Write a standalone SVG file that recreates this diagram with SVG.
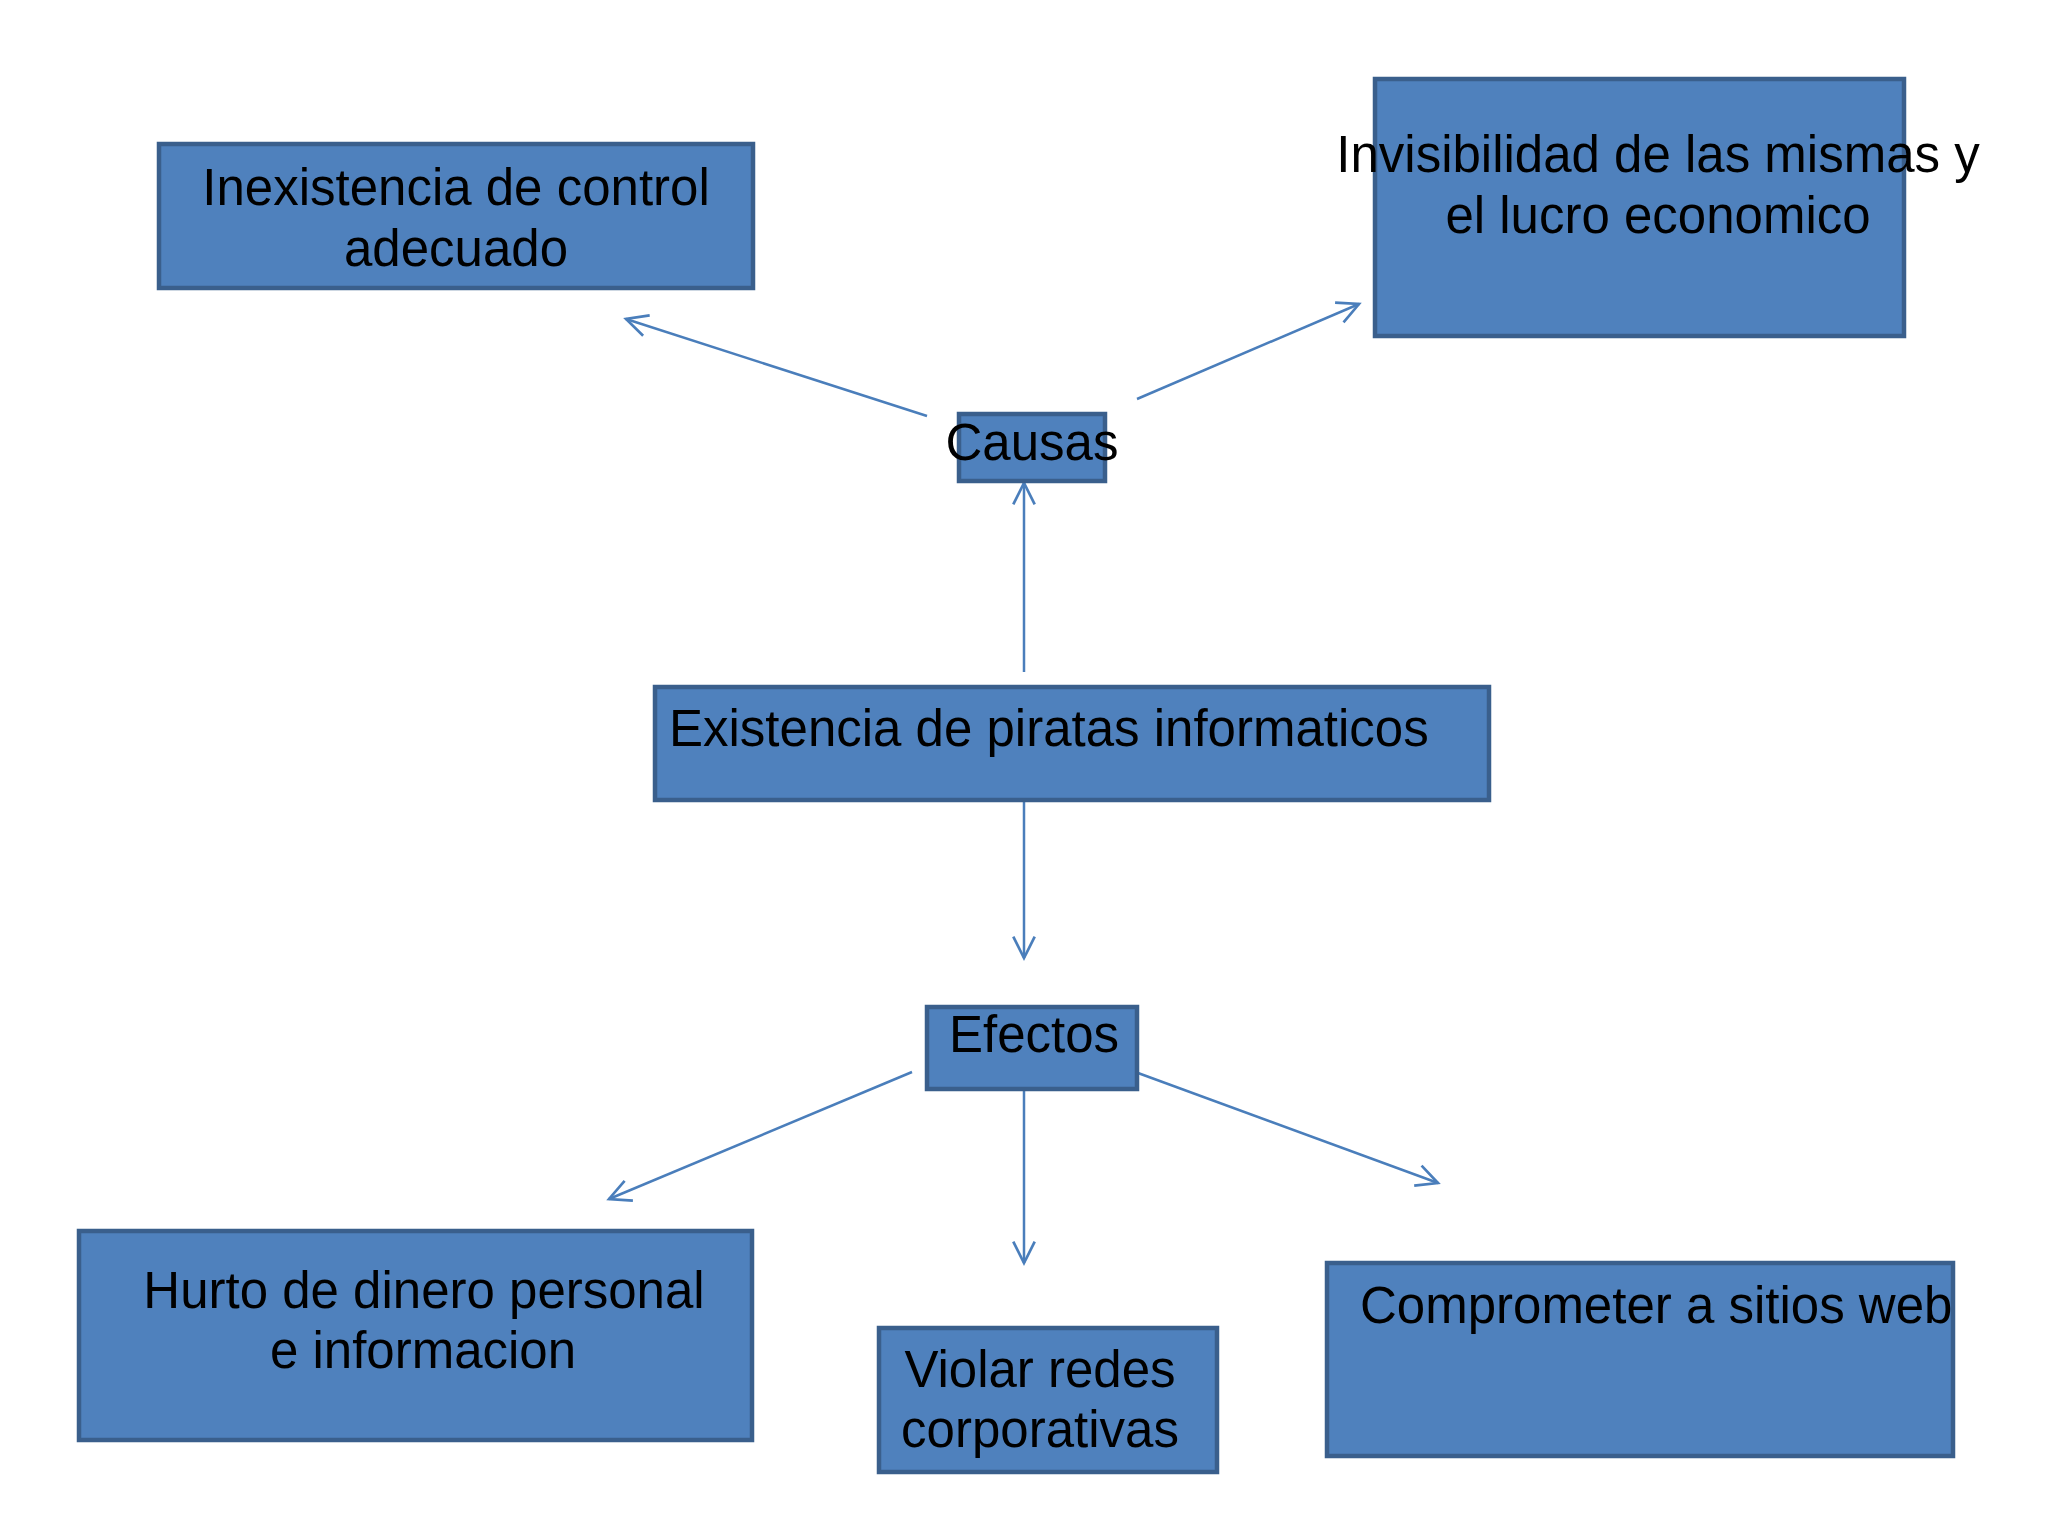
<svg xmlns="http://www.w3.org/2000/svg" width="2048" height="1536" viewBox="0 0 2048 1536">
<defs>
<style>
.box{fill:#4f81bd;stroke:#3a5f8c;stroke-width:4.5}
.t{font-family:"Liberation Sans",Arial,sans-serif;font-size:51px;fill:#000}
.c{text-anchor:middle}
.ln{fill:none;stroke:#4a7ebb;stroke-width:2.5}
</style>
<marker id="ah" markerUnits="userSpaceOnUse" markerWidth="30" markerHeight="30" viewBox="-24 -14 28 28" refX="0" refY="0" orient="auto">
<path d="M-20,-10 L0,0 L-20,10" fill="none" stroke="#4a7ebb" stroke-width="2.5"/>
</marker>
</defs>
<rect width="2048" height="1536" fill="#ffffff"/>
<g id="connectors">
<line class="ln" x1="927" y1="416" x2="626" y2="319" marker-end="url(#ah)"/>
<line class="ln" x1="1137" y1="399" x2="1359" y2="304" marker-end="url(#ah)"/>
<line class="ln" x1="1024" y1="672" x2="1024" y2="483" marker-end="url(#ah)"/>
<line class="ln" x1="1024" y1="801" x2="1024" y2="958" marker-end="url(#ah)"/>
<line class="ln" x1="912" y1="1072" x2="609" y2="1199" marker-end="url(#ah)"/>
<line class="ln" x1="1024" y1="1090" x2="1024" y2="1263" marker-end="url(#ah)"/>
<line class="ln" x1="1138" y1="1073" x2="1438" y2="1183" marker-end="url(#ah)"/>
</g>
<g id="inexistencia">
<rect class="box" x="159" y="144" width="594" height="144"/>
<text class="t c" x="456" y="205">Inexistencia de control</text>
<text class="t c" x="456" y="266">adecuado</text>
</g>
<g id="invisibilidad">
<rect class="box" x="1375" y="79" width="529" height="257"/>
<text class="t c" x="1658" y="172">Invisibilidad de las mismas y</text>
<text class="t c" x="1658" y="233">el lucro economico</text>
</g>
<g id="causas">
<rect class="box" x="959" y="414" width="146" height="67"/>
<text class="t c" x="1032" y="460">Causas</text>
</g>
<g id="existencia">
<rect class="box" x="655" y="687" width="834" height="113"/>
<text class="t" x="669" y="746">Existencia de piratas informaticos</text>
</g>
<g id="efectos">
<rect class="box" x="927" y="1007" width="210" height="82"/>
<text class="t c" x="1034" y="1052">Efectos</text>
</g>
<g id="hurto">
<rect class="box" x="79" y="1231" width="673" height="209"/>
<text class="t c" x="424" y="1308">Hurto de dinero personal</text>
<text class="t c" x="423" y="1368">e informacion</text>
</g>
<g id="violar">
<rect class="box" x="879" y="1328" width="338" height="144"/>
<text class="t c" x="1040" y="1387">Violar redes</text>
<text class="t c" x="1040" y="1447">corporativas</text>
</g>
<g id="comprometer">
<rect class="box" x="1327" y="1263" width="626" height="193"/>
<text class="t" x="1360" y="1323">Comprometer a sitios web</text>
</g>
</svg>
